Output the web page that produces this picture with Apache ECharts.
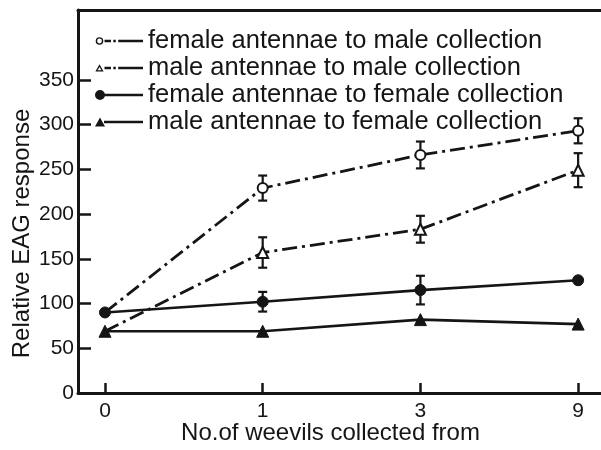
<!DOCTYPE html>
<html>
<head>
<meta charset="utf-8">
<script src="https://cdn.jsdelivr.net/npm/echarts@6/dist/echarts.min.js"></script>
<style>
  html, body { margin: 0; padding: 0; background: #fff; }
  #chart { width: 601px; height: 450px; }
</style>
</head>
<body>
<div id="chart"></div>
<script>
// Number of weevils the volatiles were collected from (evenly spaced on the axis)
const doseLabels = ['0', '1', '3', '9'];
const seriesNames = [
  'female antennae to male collection',
  'male antennae to male collection',
  'female antennae to female collection',
  'male antennae to female collection'
];
// Relative EAG response (means)
const femaleToMale = [90, 229, 266, 293];
const maleToMale = [69, 157, 183, 249];
const femaleToFemale = [90, 102, 115, 126];
const maleToFemale = [69, 69, 82, 77];
// Error bar half-ranges (0 = no bar drawn)
const femaleToMaleErr = [0, 14, 15, 14];
const maleToMaleErr = [0, 17, 15, 19];
const femaleToFemaleErr = [0, 11, 16, 0];
const yTicks = [0, 50, 100, 150, 200, 250, 300, 350];

const INK = '#151515';
const FONT = 'Liberation Sans, Arial, sans-serif';

// Legend glyphs: marker followed by the line style, in a 48 x 10 box.
// The zero-length corner subpaths pin the bounds so the glyph is not rescaled.
const box = 'M0,0 L0,0 Z M48,10 L48,10 Z ';
const ring = 'M0.7,5 A3.8,3.8 0 1,1 8.3,5 A3.8,3.8 0 1,1 0.7,5 Z M2.1,5 A2.4,2.4 0 1,0 6.9,5 A2.4,2.4 0 1,0 2.1,5 Z ';
const disc = 'M0,5 A5,5 0 1,1 10,5 A5,5 0 1,1 0,5 Z ';
const triOpen = 'M4.5,1.2 L8.6,8.6 L0.4,8.6 Z M4.5,4 L2.6,7.3 L6.4,7.3 Z ';
const triFill = 'M5,0.5 L10,9.5 L0,9.5 Z ';
const dashDot = 'M9.5,3.8 L16,3.8 L16,6.2 L9.5,6.2 Z M18.3,3.8 L20.8,3.8 L20.8,6.2 L18.3,6.2 Z M23.2,3.8 L48,3.8 L48,6.2 L23.2,6.2 Z';
const solid = 'M9,3.8 L48,3.8 L48,6.2 L9,6.2 Z';

function pts(values, hideFirst) {
  return values.map((v, i) => {
    const item = { value: [i, v] };
    if (hideFirst && i === 0) item.symbol = 'none';
    return item;
  });
}

function errData(values, errs) {
  const out = [];
  values.forEach((v, i) => {
    if (errs[i] > 0) out.push([i, v - errs[i], v + errs[i]]);
  });
  return out;
}

function renderErr(params, api) {
  const x = api.value(0);
  const lo = api.coord([x, api.value(1)]);
  const hi = api.coord([x, api.value(2)]);
  const cap = 4.5;
  const style = { stroke: INK, lineWidth: 2.2 };
  return {
    type: 'group',
    children: [
      { type: 'line', shape: { x1: lo[0], y1: lo[1], x2: hi[0], y2: hi[1] }, style },
      { type: 'line', shape: { x1: lo[0] - cap, y1: lo[1], x2: lo[0] + cap, y2: lo[1] }, style },
      { type: 'line', shape: { x1: hi[0] - cap, y1: hi[1], x2: hi[0] + cap, y2: hi[1] }, style }
    ]
  };
}

const dashPattern = [15, 5, 3, 5];

const chart = echarts.init(document.getElementById('chart'), null, { renderer: 'canvas' });

chart.setOption({
  animation: false,
  backgroundColor: '#fff',
  textStyle: { fontFamily: FONT, color: INK },
  grid: { left: 78, right: 0, top: 10, bottom: 57, containLabel: false, outerBoundsMode: 'none' },
  legend: {
    orient: 'vertical',
    left: 95,
    top: 28,
    padding: 0,
    itemWidth: 48,
    itemHeight: 10,
    itemGap: 1,
    textStyle: { fontSize: 25.5, color: INK, fontFamily: FONT },
    data: [
      { name: seriesNames[0], icon: 'path://' + box + ring + dashDot },
      { name: seriesNames[1], icon: 'path://' + box + triOpen + dashDot },
      { name: seriesNames[2], icon: 'path://' + box + disc + solid },
      { name: seriesNames[3], icon: 'path://' + box + triFill + solid }
    ],
    itemStyle: { color: INK, borderWidth: 0 }
  },
  xAxis: [
    {
      type: 'value',
      min: -0.171,
      max: 3.145,
      splitLine: { show: false },
      axisLine: { show: true, onZero: false, lineStyle: { color: INK, width: 3 } },
      axisTick: { show: true, inside: true, length: 10, lineStyle: { color: INK, width: 2.5 }, customValues: [0, 1, 2, 3] },
      axisLabel: {
        customValues: [0, 1, 2, 3],
        formatter: v => doseLabels[Math.round(v)],
        fontSize: 21, color: INK, margin: 8, fontFamily: FONT
      },
      name: 'No.of weevils collected from',
      nameLocation: 'middle',
      nameGap: 28,
      nameMoveOverlap: false,
      nameTextStyle: { fontSize: 24, color: INK, fontFamily: FONT, padding: [0, 18, 0, 0] }
    },
    {
      type: 'value',
      position: 'top',
      min: -0.171,
      max: 3.145,
      splitLine: { show: false },
      axisLine: { show: true, onZero: false, lineStyle: { color: INK, width: 3 } },
      axisTick: { show: false },
      axisLabel: { show: false }
    }
  ],
  yAxis: {
    type: 'value',
    min: 0,
    max: 428,
    splitLine: { show: false },
    axisLine: { show: true, onZero: false, lineStyle: { color: INK, width: 3 } },
    axisTick: { show: true, inside: true, length: 13, lineStyle: { color: INK, width: 2.5 }, customValues: yTicks },
    axisLabel: { customValues: yTicks, fontSize: 21, color: INK, margin: 4, fontFamily: FONT },
    name: 'Relative EAG response',
    nameLocation: 'middle',
    nameGap: 44,
    nameMoveOverlap: false,
    nameTextStyle: { fontSize: 24, color: INK, fontFamily: FONT, padding: [0, 64, 0, 0] }
  },
  series: [
    {
      name: 'errA', type: 'custom', renderItem: renderErr, z: 2,
      data: errData(femaleToMale, femaleToMaleErr), silent: true
    },
    {
      name: 'errB', type: 'custom', renderItem: renderErr, z: 2,
      data: errData(maleToMale, maleToMaleErr), silent: true
    },
    {
      name: 'errC', type: 'custom', renderItem: renderErr, z: 2,
      data: errData(femaleToFemale, femaleToFemaleErr), silent: true
    },
    {
      name: seriesNames[0], type: 'line', z: 3,
      data: pts(femaleToMale, true),
      symbol: 'circle', symbolSize: 10, showAllSymbol: true,
      lineStyle: { color: INK, width: 2.8, type: dashPattern },
      itemStyle: { color: '#fff', borderColor: INK, borderWidth: 2 }
    },
    {
      name: seriesNames[1], type: 'line', z: 3,
      data: pts(maleToMale, true),
      symbol: 'triangle', symbolSize: 11, showAllSymbol: true,
      lineStyle: { color: INK, width: 2.8, type: dashPattern },
      itemStyle: { color: '#fff', borderColor: INK, borderWidth: 2 }
    },
    {
      name: seriesNames[2], type: 'line', z: 4,
      data: pts(femaleToFemale, false),
      symbol: 'circle', symbolSize: 11, showAllSymbol: true,
      lineStyle: { color: INK, width: 2.6 },
      itemStyle: { color: INK, borderColor: INK, borderWidth: 1 }
    },
    {
      name: seriesNames[3], type: 'line', z: 4,
      data: pts(maleToFemale, false),
      symbol: 'triangle', symbolSize: 12, showAllSymbol: true,
      lineStyle: { color: INK, width: 2.6 },
      itemStyle: { color: INK, borderColor: INK, borderWidth: 1 }
    }
  ]
});
</script>
</body>
</html>
